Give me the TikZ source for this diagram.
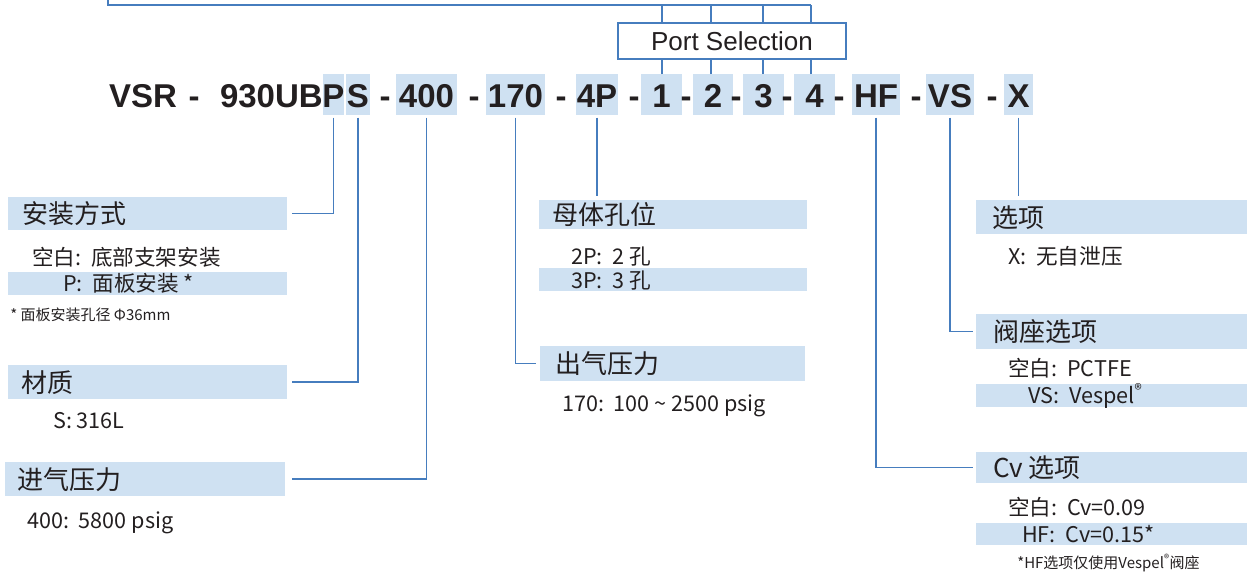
\documentclass[tikz,border=0pt]{standalone}
\usepackage{fontspec}
\usetikzlibrary{fit}
\newfontfamily\codef{Liberation Sans}
\newfontfamily\cjk{Noto Sans CJK SC}
\definecolor{hlblue}{HTML}{CFE1F2}
\definecolor{lineblue}{HTML}{467DBE}
\definecolor{ink}{HTML}{231F20}
\newcommand{\gp}{\hspace{0.45em}}
\tikzset{
  hl/.style={fill=hlblue, draw=none, inner sep=0pt, outer sep=0pt},
  conn/.style={draw=lineblue, line width=1.3pt},
  code/.style={font=\codef\bfseries\fontsize{24.75}{28}\selectfont, text=ink, inner sep=0pt, anchor=base},
  hdr/.style={font=\cjk\fontsize{19.5}{23}\selectfont, text=ink, inner sep=0pt, anchor=base west},
  body/.style={font=\cjk\fontsize{16.2}{19}\selectfont, text=ink, inner sep=0pt, anchor=base west},
  note/.style={font=\cjk\fontsize{11.25}{14}\selectfont, text=ink, inner sep=0pt, anchor=base west},
  portbox/.style={draw=lineblue, line width=1.6pt, fill=white, inner sep=0pt,
    minimum width=171pt, minimum height=27pt, font=\codef\fontsize{19.5}{23}\selectfont, text=ink},
}
\begin{document}
\begin{tikzpicture}[x=0.75pt, y=-0.75pt]
\useasboundingbox (0,0) rectangle (1247,572);

% code highlights
\node[hl, fit={(323,74) (344,115)}] (hP) {};
\node[hl, fit={(346,74) (370,115)}] (hS) {};
\node[hl, fit={(396,74) (457,115)}] (h400) {};
\node[hl, fit={(486,74) (545,115)}] (h170) {};
\node[hl, fit={(576,74) (618,115)}] (h4P) {};
\node[hl, fit={(641,74) (682,115)}] (h1) {};
\node[hl, fit={(693,74) (733,115)}] (h2) {};
\node[hl, fit={(743,74) (784,115)}] (h3) {};
\node[hl, fit={(794,74) (835,115)}] (h4) {};
\node[hl, fit={(852,74) (900,115)}] (hHF) {};
\node[hl, fit={(926,74) (974,115)}] (hVS) {};
\node[hl, fit={(1004,74) (1033,115)}] (hX) {};

% code text
\node[code] (tVSR) at (143,107) {VSR};
\node[code] (d1) at (194,107) {-};
\node[code, anchor=base east] (t930) at (323,107) {930UB};
\node[code] (tP) at (333.5,107) {P};
\node[code] (tS) at (358,107) {S};
\node[code] (d2) at (385,107) {-};
\node[code] (t400) at (426.5,107) {400};
\node[code] (d3) at (474,107) {-};
\node[code] (t170) at (515.5,107) {170};
\node[code] (d4) at (561,107) {-};
\node[code] (t4P) at (597,107) {4P};
\node[code] (d5) at (634,107) {-};
\node[code] (t1) at (661.5,107) {1};
\node[code] (d6) at (686,107) {-};
\node[code] (t2) at (713,107) {2};
\node[code] (d7) at (736,107) {-};
\node[code] (t3) at (763.5,107) {3};
\node[code] (d8) at (787,107) {-};
\node[code] (t4) at (814.5,107) {4};
\node[code] (d9) at (839,107) {-};
\node[code] (tHF) at (876,107) {HF};
\node[code] (d10) at (916,107) {-};
\node[code] (tVS) at (950,107) {VS};
\node[code] (d11) at (992,107) {-};
\node[code] (tX) at (1018.5,107) {X};

% port selection
\coordinate (frameTop) at (108,-5);
\coordinate (frameCorner) at (108,5);
\coordinate (frameEnd) at (811,5);
\node[portbox] (port) at (732,41) {Port Selection};
\draw[conn] (frameTop) -- (frameCorner) -- (frameEnd);
\coordinate (c1) at (662,74);
\coordinate (c2) at (711,74);
\coordinate (c3) at (763,74);
\coordinate (c4) at (811,74);
\foreach \c in {c1,c2,c3,c4}{
  \draw[conn] (\c) -- (\c |- port.south);
  \draw[conn] (\c |- port.north) -- (\c |- frameEnd);
}

% header bars
\node[hl, fit={(8,197) (287,230)}] (mount) {};
\node[hl, fit={(8,272) (287,295)}] (mountP) {};
\node[hl, fit={(8,365) (287,399)}] (mat) {};
\node[hl, fit={(5,462) (285,496)}] (inp) {};
\node[hl, fit={(539,200) (807,229)}] (body) {};
\node[hl, fit={(539,268) (807,291)}] (body3) {};
\node[hl, fit={(540,346) (805,381)}] (outp) {};
\node[hl, fit={(976,200) (1247,234)}] (opt) {};
\node[hl, fit={(976,314) (1247,349)}] (seat) {};
\node[hl, fit={(976,384) (1247,407)}] (seatVS) {};
\node[hl, fit={(976,452) (1247,483)}] (cv) {};
\node[hl, fit={(976,523) (1247,545)}] (cvHF) {};

% connectors
\draw[conn, shorten <=2pt, shorten >=3.5pt] (hP.south) |- (mount.east);
\draw[conn, shorten <=2pt, shorten >=3.5pt] (hS.south) |- (mat.east);
\draw[conn, shorten <=2pt, shorten >=5pt] (h400.south) |- (inp.east);
\draw[conn, shorten <=2pt, shorten >=3pt] (h170.south) |- (outp.west);
\draw[conn, shorten <=2pt, shorten >=3pt] (h4P.south) -- (h4P.south |- body.north);
\draw[conn, shorten <=2pt, shorten >=2.5pt] (hHF.south) |- (cv.west);
\draw[conn, shorten <=2pt, shorten >=2.5pt] (hVS.south) |- (seat.west);
\draw[conn, shorten <=2pt, shorten >=3pt] (hX.south) -- (hX.south |- opt.north);

% texts
\node[hdr] (l1) at (22,223) {安装方式};
\node[body] (l2) at (32,265) {空白:\gp 底部支架安装};
\node[body] (l3) at (63,291.5) {P:\gp 面板安装 *};
\node[note] (l4) at (10,320) {* 面板安装孔径 Φ36mm};
\node[hdr] (l5) at (21,392) {材质};
\node[body] (l6) at (53,428) {S: 316L};
\node[hdr] (l7) at (17,489) {进气压力};
\node[body] (l8) at (27,528) {400:\gp 5800 psig};
\node[hdr] (l9) at (552,224.5) {母体孔位};
\node[body] (l10) at (571,264) {2P:\gp 2 孔};
\node[body] (l11) at (571,288) {3P:\gp 3 孔};
\node[hdr] (l12) at (555,373.5) {出气压力};
\node[body] (l13) at (562,411) {170:\gp 100 \textasciitilde{} 2500 psig};
\node[hdr] (l14) at (992,227) {选项};
\node[body] (l15) at (1008,264) {X:\gp 无自泄压};
\node[hdr] (l16) at (993,341.5) {阀座选项};
\node[body] (l17) at (1008,376) {空白:\gp PCTFE};
\node[body] (l18) at (1028,403.5) {VS:\gp Vespel\textsuperscript{®}};
\node[hdr] (l19) at (993,477.5) {Cv 选项};
\node[body] (l20) at (1008,515) {空白:\gp Cv=0.09};
\node[body] (l21) at (1022,542) {HF:\gp Cv=0.15*};
\node[note] (l22) at (1017,568) {*HF选项仅使用Vespel\textsuperscript{®}阀座};
\end{tikzpicture}
\end{document}
